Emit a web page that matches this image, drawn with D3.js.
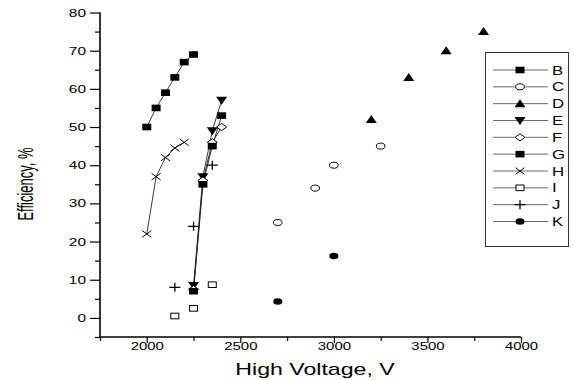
<!DOCTYPE html>
<html>
<head>
<meta charset="utf-8">
<script src="https://cdn.jsdelivr.net/npm/d3@7"></script>
<style>
  body { margin: 0; background: #fff; }
  text { font-family: "Liberation Sans", Arial, sans-serif; fill: #000; }
</style>
</head>
<body>
<svg id="chart" width="574" height="380"></svg>
<script>
// series values: [voltage, efficiency]
const seriesB = [[2000, 50], [2050, 55], [2100, 59], [2150, 63], [2200, 67], [2250, 69]];
const seriesC = [[2700, 25], [2900, 34], [3000, 40], [3250, 45]];
const seriesD = [[3200, 52], [3400, 63], [3600, 70], [3800, 75]];
const seriesE = [[2250, 8.5], [2300, 37], [2350, 49], [2400, 57]];
const seriesF = [[2250, 7.5], [2300, 36], [2350, 46], [2400, 50]];
const seriesG = [[2250, 7], [2300, 35], [2350, 45], [2400, 53]];
const seriesH = [[2000, 22], [2050, 37], [2100, 42], [2150, 44.5], [2200, 46]];
const seriesI = [[2150, 0.5], [2250, 2.5], [2350, 8.7]];
const seriesJ = [[2150, 8], [2250, 24], [2350, 40]];
const seriesK = [[2700, 4.3], [3000, 16.2]];

const names = ["B", "C", "D", "E", "F", "G", "H", "I", "J", "K"];
const xTicks = [2000, 2500, 3000, 3500, 4000];
const yTicks = [0, 10, 20, 30, 40, 50, 60, 70, 80];

const series = [
  { name: "B", data: seriesB, sym: "sqf", line: true },
  { name: "C", data: seriesC, sym: "circ", line: false },
  { name: "D", data: seriesD, sym: "triu", line: false },
  { name: "E", data: seriesE, sym: "trid", line: true },
  { name: "F", data: seriesF, sym: "diam", line: true },
  { name: "G", data: seriesG, sym: "sqf", line: true },
  { name: "H", data: seriesH, sym: "cross", line: true },
  { name: "I", data: seriesI, sym: "sqo", line: false },
  { name: "J", data: seriesJ, sym: "plus", line: false },
  { name: "K", data: seriesK, sym: "circf", line: false }
];

const svg = d3.select("#chart");
const x = d3.scaleLinear().domain([1750, 4000]).range([100, 521]);
const y = d3.scaleLinear().domain([-5, 80]).range([337, 12.5]);

// draw one marker centred on (cx, cy)
function marker(g, sym, cx, cy) {
  const s = g.append("g").attr("transform", `translate(${cx},${cy})`);
  switch (sym) {
    case "sqf":
      s.append("rect").attr("x", -4.5).attr("y", -3.3).attr("width", 9).attr("height", 6.6).attr("fill", "#000");
      break;
    case "sqo":
      s.append("rect").attr("x", -4).attr("y", -2.8).attr("width", 8).attr("height", 5.6)
        .attr("fill", "#fff").attr("stroke", "#000").attr("stroke-width", 1);
      break;
    case "circ":
      s.append("ellipse").attr("rx", 4.3).attr("ry", 3).attr("fill", "#fff").attr("stroke", "#000").attr("stroke-width", 1);
      break;
    case "circf":
      s.append("ellipse").attr("rx", 4.5).attr("ry", 3.3).attr("fill", "#000");
      break;
    case "triu":
      s.append("path").attr("d", "M0,-4.5L5.5,3.5L-5.5,3.5Z").attr("fill", "#000");
      break;
    case "trid":
      s.append("path").attr("d", "M0,4.5L5.5,-3.5L-5.5,-3.5Z").attr("fill", "#000");
      break;
    case "diam":
      s.append("path").attr("d", "M0,-3.6L5,0L0,3.6L-5,0Z").attr("fill", "#fff").attr("stroke", "#000").attr("stroke-width", 1);
      break;
    case "cross":
      s.append("path").attr("d", "M-4.5,-3.3L4.5,3.3M-4.5,3.3L4.5,-3.3").attr("stroke", "#000").attr("stroke-width", 1);
      break;
    case "plus":
      s.append("path").attr("d", "M-5.5,0L5.5,0M0,-4.5L0,4.5").attr("stroke", "#000").attr("stroke-width", 1.3);
      break;
  }
}

// axes
const xAxis = svg.append("g").attr("transform", "translate(0,337)")
  .call(d3.axisBottom(x).tickValues(xTicks).tickSize(6).tickFormat(d3.format("d")));
svg.append("g").attr("transform", "translate(0,337)")
  .call(d3.axisBottom(x).tickValues([1750, 2250, 2750, 3250, 3750]).tickSize(4).tickFormat(""))
  .select(".domain").remove();
const yAxis = svg.append("g").attr("transform", "translate(100,0)")
  .call(d3.axisLeft(y).tickValues(yTicks).tickSize(10));
svg.append("g").attr("transform", "translate(100,0)")
  .call(d3.axisLeft(y).tickValues([-5, 5, 15, 25, 35, 45, 55, 65, 75]).tickSize(5).tickFormat(""))
  .select(".domain").remove();

svg.selectAll(".domain").attr("stroke-width", 1.6).attr("stroke", "#000");
svg.selectAll(".tick line").attr("stroke", "#000").attr("stroke-width", 1.2);
xAxis.selectAll(".domain").attr("d", `M${x(1750)},0H${x(4000)}`);
yAxis.selectAll(".domain").attr("d", `M0,${y(-5)}V${y(80)}`);

xAxis.selectAll("text")
  .attr("y", 5).attr("dy", "0.71em").attr("font-size", 11.5)
  .attr("transform", "scale(1.3,1)");
yAxis.selectAll("text")
  .attr("x", 0).attr("font-size", 11)
  .attr("transform", "translate(-14,0) scale(1.4,1)");

svg.append("text")
  .attr("transform", "translate(315,375) scale(1.36,1)")
  .attr("text-anchor", "middle").attr("font-size", 17)
  .text("High Voltage, V");
svg.append("text")
  .attr("transform", "translate(33,184) rotate(-90) scale(1,1.65)")
  .attr("text-anchor", "middle").attr("font-size", 13)
  .text("Efficiency, %");

// lines and markers
const line = d3.line().x(d => x(d[0])).y(d => y(d[1]));
const plot = svg.append("g");
series.filter(s => s.line).forEach(s => {
  plot.append("path").attr("d", line(s.data))
    .attr("fill", "none").attr("stroke", "#222").attr("stroke-width", 0.9);
});
series.forEach(s => {
  s.data.forEach(d => marker(plot, s.sym, x(d[0]), y(d[1])));
});

// legend
const legend = svg.append("g");
legend.append("rect").attr("x", 485.5).attr("y", 52.5).attr("width", 83).attr("height", 194)
  .attr("fill", "#fff").attr("stroke", "#333").attr("stroke-width", 1);
const rowY = d3.scalePoint().domain(names).range([70, 221.5]);
series.forEach(s => {
  const ry = rowY(s.name);
  legend.append("line").attr("x1", 493).attr("x2", 548).attr("y1", ry).attr("y2", ry)
    .attr("stroke", "#444").attr("stroke-width", 0.8);
  marker(legend, s.sym, 520, ry);
  legend.append("text")
    .attr("transform", `translate(552,${ry + 4.5}) scale(1.4,1)`)
    .attr("font-size", 12).text(s.name);
});
</script>
</body>
</html>
